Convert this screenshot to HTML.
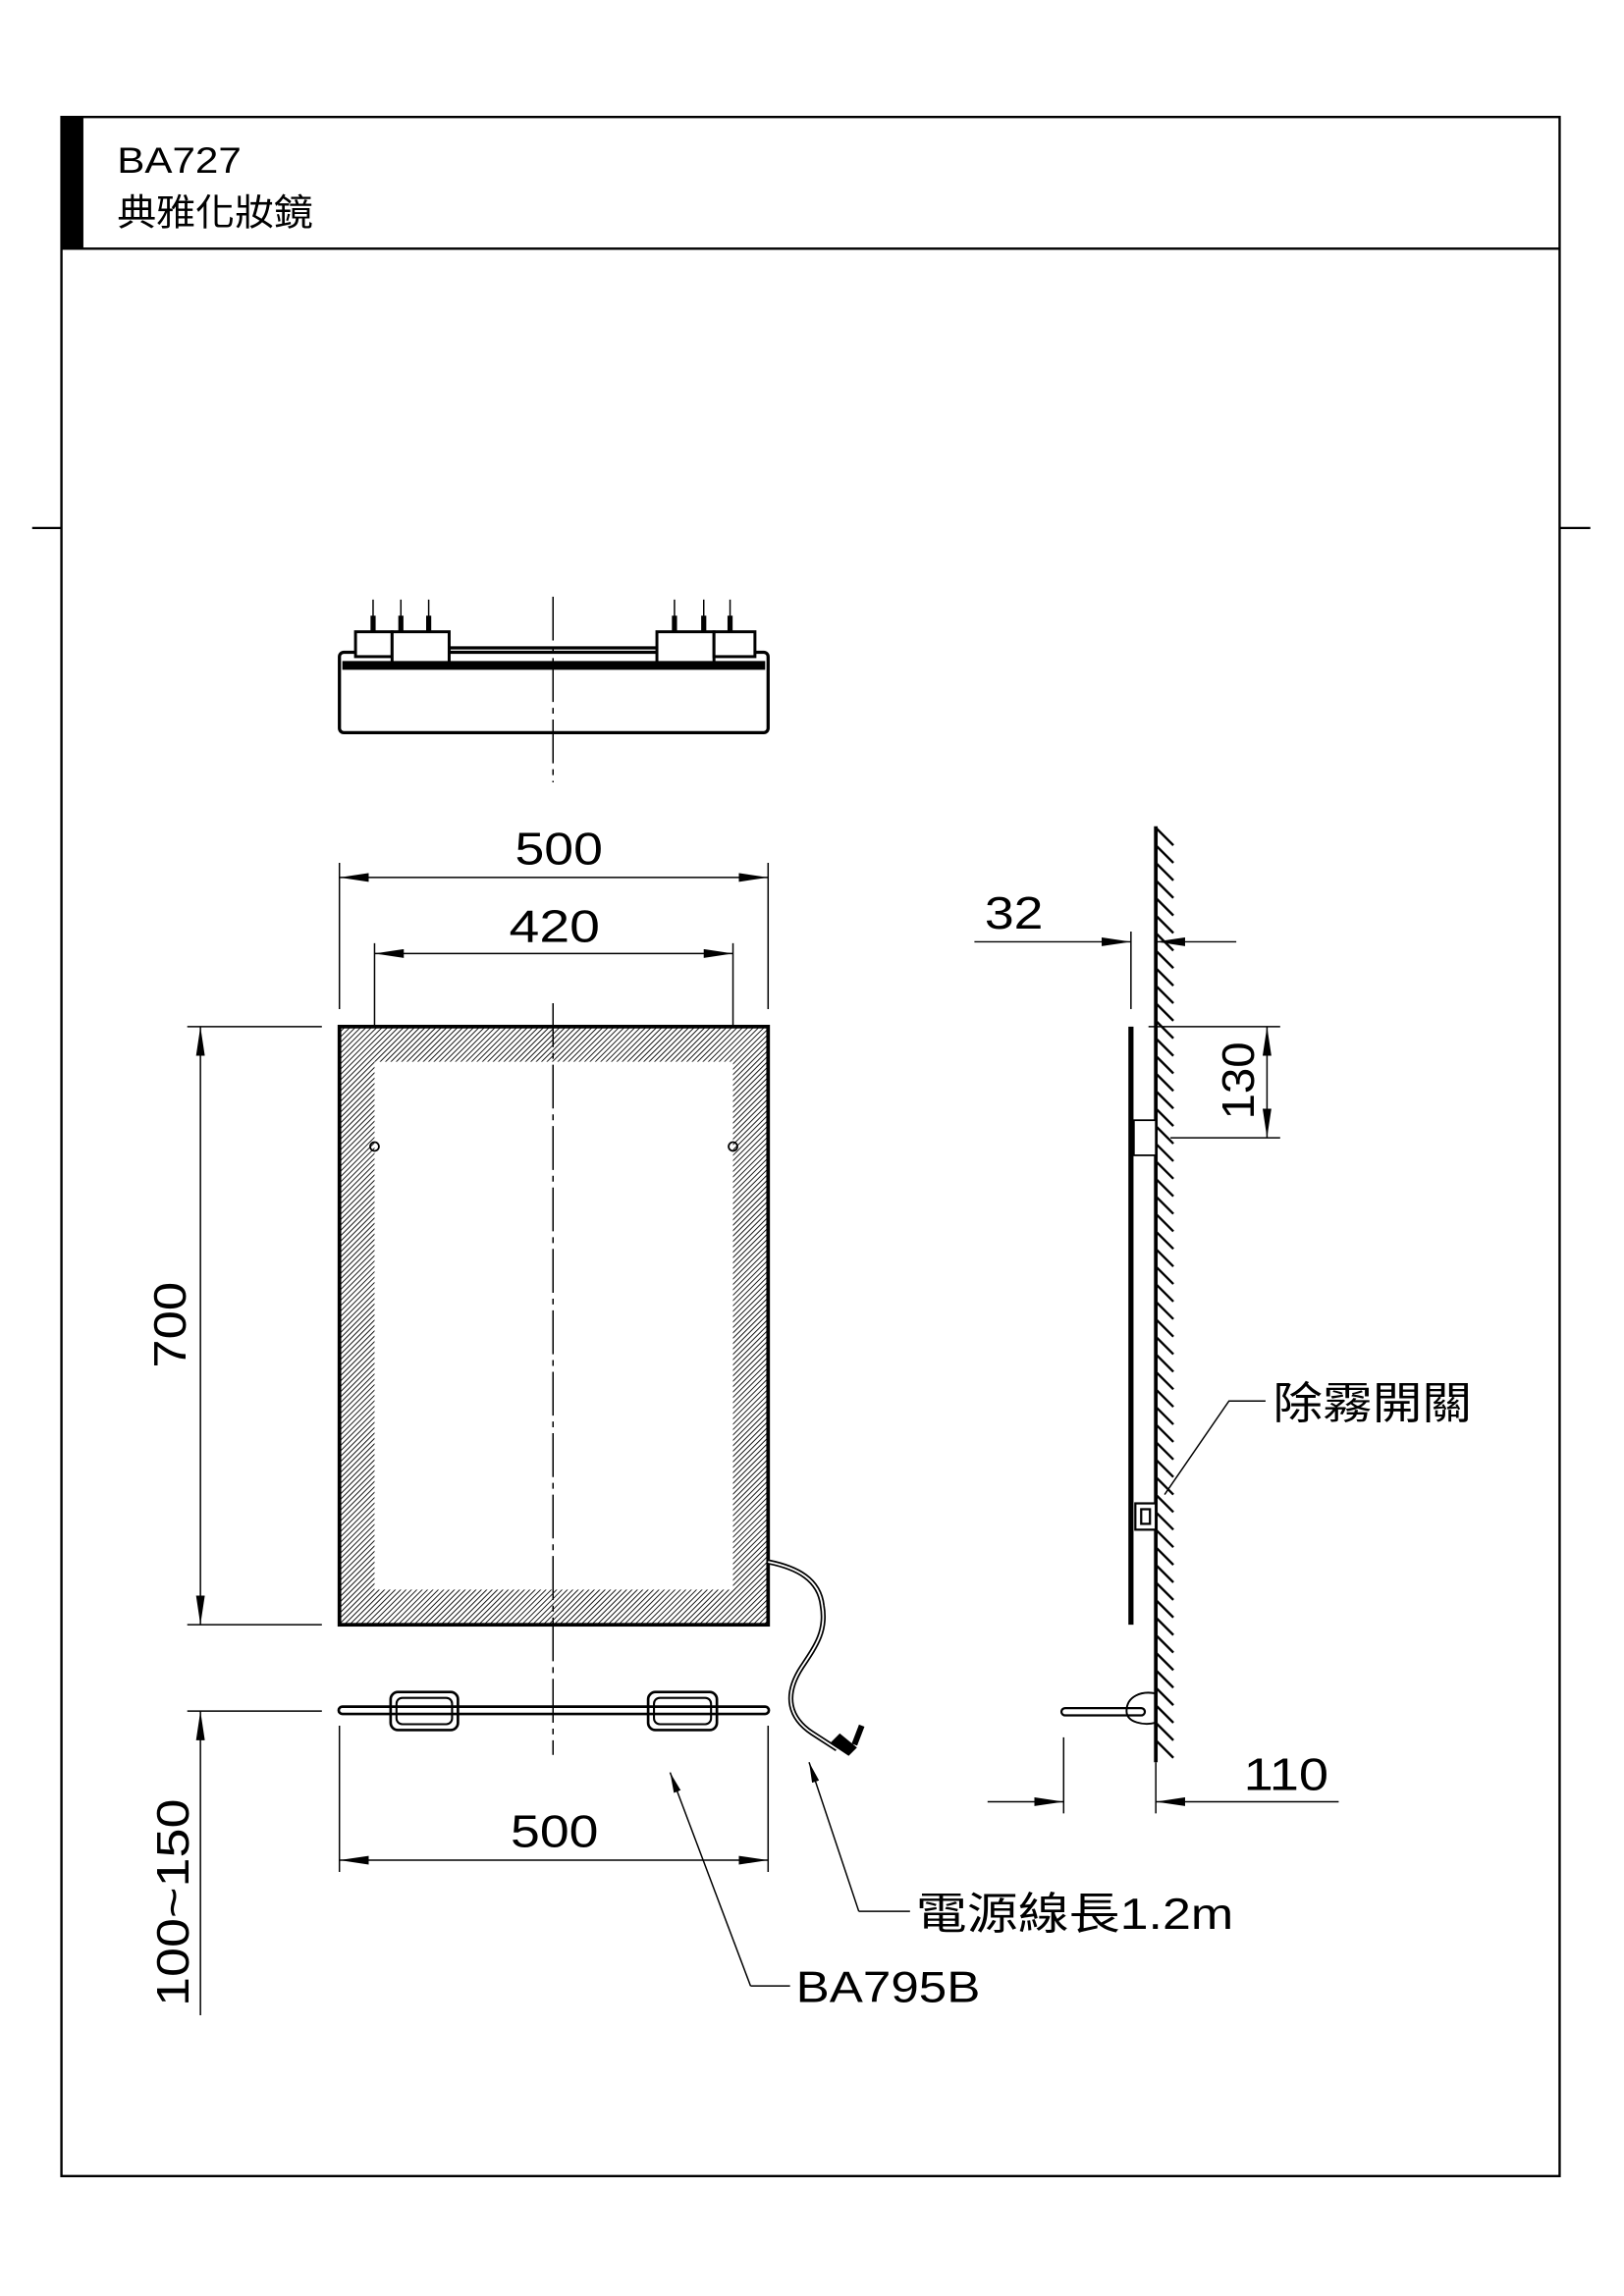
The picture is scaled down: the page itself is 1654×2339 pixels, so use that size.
<!DOCTYPE html>
<html><head><meta charset="utf-8"><style>html,body{margin:0;padding:0;background:#fff}svg{display:block}</style></head>
<body>
<svg width="1654" height="2339" viewBox="0 0 1110 1570" preserveAspectRatio="none" xmlns="http://www.w3.org/2000/svg" font-family="Liberation Sans, Noto Sans CJK TC, sans-serif">
<defs>
<pattern id="h" patternUnits="userSpaceOnUse" width="2.6" height="2.6" patternTransform="rotate(45)">
<rect width="2.6" height="2.6" fill="#fff"/><line x1="0" y1="0" x2="0" y2="2.6" stroke="#000" stroke-width="1.2"/></pattern>
<marker id="a" viewBox="0 0 20 6" refX="20" refY="3" markerWidth="20" markerHeight="6" markerUnits="userSpaceOnUse" orient="auto-start-reverse"><path d="M0,0 L20,3 L0,6 z" fill="#000"/></marker>
<marker id="b" viewBox="0 0 14 5" refX="14" refY="2.5" markerWidth="14" markerHeight="5" markerUnits="userSpaceOnUse" orient="auto"><path d="M0,0 L14,2.5 L0,5 z" fill="#000"/></marker>
</defs>
<g fill="none" stroke="#000">
<rect x="42" y="80" width="1024" height="1408" stroke-width="1.6"/>
<line x1="42" y1="170" x2="1066" y2="170" stroke-width="1.6"/>
<rect x="42" y="80" width="15" height="90" fill="#000" stroke="none"/>
<line x1="22" y1="361" x2="42" y2="361" stroke-width="1.5"/>
<line x1="1066" y1="361" x2="1087" y2="361" stroke-width="1.5"/>

<rect x="232" y="446" width="293" height="55" rx="3" stroke-width="2.2"/>
<rect x="234" y="452" width="289" height="6" fill="#000" stroke="none"/>
<line x1="307" y1="443" x2="449" y2="443" stroke-width="2.2"/>
<rect x="243" y="432" width="25" height="17" stroke-width="2" fill="#fff"/>
<rect x="268" y="432" width="39" height="21" stroke-width="2" fill="#fff"/>
<rect x="449" y="432" width="39" height="21" stroke-width="2" fill="#fff"/>
<rect x="488" y="432" width="28" height="17" stroke-width="2" fill="#fff"/>
<g stroke-width="1"><line x1="255" y1="410" x2="255" y2="432"/><line x1="274" y1="410" x2="274" y2="432"/><line x1="293" y1="410" x2="293" y2="432"/><line x1="461" y1="410" x2="461" y2="432"/><line x1="481" y1="410" x2="481" y2="432"/><line x1="499" y1="410" x2="499" y2="432"/></g>
<g stroke-width="3.5"><line x1="255" y1="421" x2="255" y2="432"/><line x1="274" y1="421" x2="274" y2="432"/><line x1="293" y1="421" x2="293" y2="432"/><line x1="461" y1="421" x2="461" y2="432"/><line x1="481" y1="421" x2="481" y2="432"/><line x1="499" y1="421" x2="499" y2="432"/></g>
<line x1="378" y1="408" x2="378" y2="535" stroke-width="1" stroke-dasharray="30,4,4,4"/>

<g stroke-width="1">
<line x1="232" y1="590" x2="232" y2="690"/><line x1="525" y1="590" x2="525" y2="690"/>
<line x1="232" y1="600" x2="525" y2="600" marker-start="url(#a)" marker-end="url(#a)"/>
<line x1="256" y1="645" x2="256" y2="790"/><line x1="501" y1="645" x2="501" y2="790"/>
<line x1="256" y1="652" x2="501" y2="652" marker-start="url(#a)" marker-end="url(#a)"/>
<line x1="128" y1="702" x2="220" y2="702"/><line x1="128" y1="1111" x2="220" y2="1111"/>
<line x1="137" y1="702" x2="137" y2="1111" marker-start="url(#a)" marker-end="url(#a)"/>
<line x1="128" y1="1170" x2="220" y2="1170"/>
<line x1="137" y1="1378" x2="137" y2="1170" marker-end="url(#a)"/>
<line x1="232" y1="1180" x2="232" y2="1280"/><line x1="525" y1="1180" x2="525" y2="1280"/>
<line x1="232" y1="1272" x2="525" y2="1272" marker-start="url(#a)" marker-end="url(#a)"/>
</g>

<rect x="232" y="702" width="293" height="409" fill="url(#h)" stroke-width="2.5"/>
<rect x="256" y="726" width="245" height="361" fill="#fff" stroke="none"/>
<circle cx="256" cy="784" r="3" stroke-width="1.2"/><circle cx="501" cy="784" r="3" stroke-width="1.2"/>
<line x1="378" y1="686" x2="378" y2="1200" stroke-width="1" stroke-dasharray="30,4,4,4"/>

<path d="M525,1068 C545,1072 560,1080 562,1098 C565,1115 558,1125 548,1140 C535,1160 540,1175 555,1185 L572,1196" stroke-width="3.5"/>
<path d="M525,1068 C545,1072 560,1080 562,1098 C565,1115 558,1125 548,1140 C535,1160 540,1175 555,1185 L572,1196" stroke-width="1.2" stroke="#fff"/>
<path d="M568,1192 L580,1200 L585,1195 L574,1186 z" fill="#000" stroke-width="1"/>
<line x1="584" y1="1193" x2="589" y2="1180" stroke-width="4"/>

<path d="M234,1167 L523,1167 a2,2 0 0 1 0,5 L234,1172 a2,2 0 0 1 0,-5 z" stroke-width="1.8"/>
<rect x="267" y="1157" width="46" height="26" rx="5" stroke-width="1.8"/>
<rect x="271" y="1161" width="38" height="18" rx="4" stroke-width="1.4"/>
<rect x="443" y="1157" width="47" height="26" rx="5" stroke-width="1.8"/>
<rect x="447" y="1161" width="39" height="18" rx="4" stroke-width="1.4"/>

<g stroke-width="1">
<polyline points="513,1358 540,1358"/><line x1="513" y1="1358" x2="458" y2="1212" marker-end="url(#b)"/>
<polyline points="587,1307 622,1307"/><line x1="587" y1="1307" x2="553" y2="1205" marker-end="url(#b)"/>
</g>

<line x1="790" y1="565" x2="790" y2="1205" stroke-width="2.5"/>
<path d="M790,566 L802,578 M790,578 L802,590 M790,590 L802,602 M790,602 L802,614 M790,614 L802,626 M790,626 L802,638 M790,638 L802,650 M790,650 L802,662 M790,662 L802,674 M790,674 L802,686 M790,686 L802,698 M790,698 L802,710 M790,710 L802,722 M790,722 L802,734 M790,734 L802,746 M790,746 L802,758 M790,758 L802,770 M790,770 L802,782 M790,782 L802,794 M790,794 L802,806 M790,806 L802,818 M790,818 L802,830 M790,830 L802,842 M790,842 L802,854 M790,854 L802,866 M790,866 L802,878 M790,878 L802,890 M790,890 L802,902 M790,902 L802,914 M790,914 L802,926 M790,926 L802,938 M790,938 L802,950 M790,950 L802,962 M790,962 L802,974 M790,974 L802,986 M790,986 L802,998 M790,998 L802,1010 M790,1010 L802,1022 M790,1022 L802,1034 M790,1034 L802,1046 M790,1046 L802,1058 M790,1058 L802,1070 M790,1070 L802,1082 M790,1082 L802,1094 M790,1094 L802,1106 M790,1106 L802,1118 M790,1118 L802,1130 M790,1130 L802,1142 M790,1142 L802,1154 M790,1154 L802,1166 M790,1166 L802,1178 M790,1178 L802,1190 M790,1190 L802,1202" stroke-width="1.6"/>
<line x1="773" y1="702" x2="773" y2="1111" stroke-width="3.5"/>
<rect x="775" y="766" width="15" height="24" stroke-width="1.2" fill="#fff"/>
<rect x="776" y="1028" width="14" height="18" stroke-width="1.5" fill="#fff"/>
<rect x="780" y="1032" width="6" height="10" stroke-width="1.5"/>
<path d="M728,1168 L780,1168 a2,2 0 0 1 0,5 L728,1173 a2,2 0 0 1 0,-5 z" stroke-width="1.5"/>
<path d="M790,1158 C780,1156 770,1160 770,1170 C770,1178 782,1180 790,1178" stroke-width="1.3"/>
<g stroke-width="1">
<line x1="773" y1="637" x2="773" y2="690"/>
<line x1="666" y1="644" x2="773" y2="644" marker-end="url(#a)"/>
<line x1="845" y1="644" x2="790" y2="644" marker-end="url(#a)"/>
<line x1="785" y1="702" x2="875" y2="702"/><line x1="800" y1="778" x2="875" y2="778"/>
<line x1="866" y1="702" x2="866" y2="778" marker-start="url(#a)" marker-end="url(#a)"/>
<line x1="727" y1="1188" x2="727" y2="1240"/><line x1="790" y1="1205" x2="790" y2="1240"/>
<line x1="675" y1="1232" x2="727" y2="1232" marker-end="url(#a)"/>
<line x1="915" y1="1232" x2="790" y2="1232" marker-end="url(#a)"/>
<polyline points="865,958 840,958 796,1022"/>
</g>
</g>

<g fill="#000" font-size="31" text-anchor="middle" lengthAdjust="spacingAndGlyphs">
<text x="382" y="591" textLength="60" lengthAdjust="spacingAndGlyphs">500</text>
<text x="379" y="644" textLength="62" lengthAdjust="spacingAndGlyphs">420</text>
<text x="379" y="1263" textLength="60" lengthAdjust="spacingAndGlyphs">500</text>
<text x="693" y="635" textLength="40" lengthAdjust="spacingAndGlyphs">32</text>
<text x="879" y="1224" textLength="58" lengthAdjust="spacingAndGlyphs">110</text>
<text transform="translate(127,906) rotate(-90)" textLength="59" lengthAdjust="spacingAndGlyphs">700</text>
<text transform="translate(129,1301) rotate(-90)" textLength="142" lengthAdjust="spacingAndGlyphs">100~150</text>
<text transform="translate(857,739) rotate(-90)" textLength="53" lengthAdjust="spacingAndGlyphs">130</text>
</g>
<g fill="#000" font-size="30">
<text x="544" y="1369" textLength="126" lengthAdjust="spacingAndGlyphs">BA795B</text>
<text x="626" y="1319" textLength="217" lengthAdjust="spacingAndGlyphs">電源線長1.2m</text>
<text x="870" y="970" textLength="136" lengthAdjust="spacingAndGlyphs">除霧開關</text>
</g>
<g fill="#000" font-size="25">
<text x="80" y="118" textLength="85" lengthAdjust="spacingAndGlyphs">BA727</text>
<text x="80" y="154" textLength="134" lengthAdjust="spacingAndGlyphs">典雅化妝鏡</text>
</g>
</svg>
</body></html>
